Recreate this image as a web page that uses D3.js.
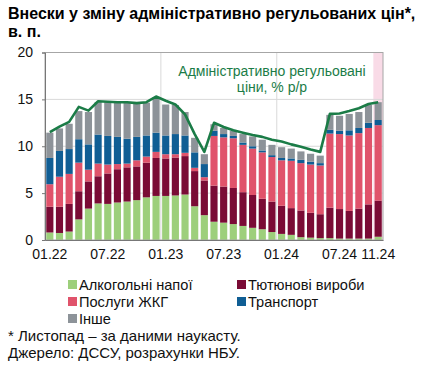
<!DOCTYPE html>
<html><head><meta charset="utf-8">
<script src="https://cdn.jsdelivr.net/npm/d3@7/dist/d3.min.js"></script>
<style>
body{margin:0;background:#fff;}
svg{display:block;font-family:"Liberation Sans",Arial,sans-serif;}
</style></head>
<body><svg id="c" width="421" height="365"></svg>
<script>
const months = ["01.22","02.22","03.22","04.22","05.22","06.22","07.22","08.22","09.22","10.22","11.22","12.22",
"01.23","02.23","03.23","04.23","05.23","06.23","07.23","08.23","09.23","10.23","11.23","12.23",
"01.24","02.24","03.24","04.24","05.24","06.24","07.24","08.24","09.24","10.24","11.24"];
const tickLabels = ["01.22","07.22","01.23","07.23","01.24","07.24","11.24"];
const yTicks = [0,5,10,15,20];

const alcohol = [0.8,0.75,0.9,2.2,3.35,3.9,3.85,4.0,4.1,4.25,4.55,4.7,4.7,4.75,4.85,3.6,2.65,1.95,1.85,1.7,1.5,1.3,1.15,0.85,0.65,0.55,0.3,0.25,0.2,0.2,0.15,0.15,0.15,0.15,0.35];
const tobacco = [2.75,2.8,2.95,3.0,2.9,2.9,3.25,3.55,3.65,3.6,3.7,4.05,4.0,4.05,4.1,3.75,3.7,3.85,3.85,3.85,3.6,3.5,3.25,3.25,3.0,2.85,2.85,2.65,2.55,3.25,3.15,2.95,3.2,3.65,3.85];
const housing = [2.4,3.2,3.2,3.05,1.25,1.35,0.95,0.55,0.4,0.65,0.65,0.65,0.45,0.35,0.35,0.35,0.35,5.3,5.25,5.3,5.05,4.95,4.95,4.75,4.85,5.05,5.05,5.15,5.2,7.9,8.0,8.05,8.05,8.15,8.05];
const transport = [2.8,2.75,2.65,2.5,2.7,3.1,3.05,2.9,2.65,2.5,2.25,2.05,2.0,2.15,1.85,1.65,1.4,0.55,0.35,0.25,0.25,0.25,0.2,0.2,0.25,0.25,0.35,0.3,0.25,0.4,0.35,0.55,0.55,0.55,0.55];
const other = [2.7,2.4,2.7,3.0,3.45,3.45,3.6,3.7,3.85,3.6,3.5,3.8,3.3,3.1,2.5,1.55,1.05,0.7,0.65,0.55,0.9,1.05,1.15,1.1,1.15,1.05,0.9,0.85,0.8,1.6,1.6,1.75,1.7,1.9,1.9];
const adminPrices = [11.5,12.1,12.6,14.2,13.8,14.8,14.75,14.7,14.7,14.6,14.7,15.3,14.85,14.45,13.4,11.3,9.4,12.5,12.05,11.7,11.45,11.2,11.0,10.7,10.5,10.2,9.95,9.65,9.4,13.45,13.5,13.75,14.05,14.5,14.7];

const seriesNames = ["Алкогольні напої","Тютюнові вироби","Послуги ЖКГ","Транспорт","Інше"];
const seriesData = [alcohol,tobacco,housing,transport,other];
const colors = ["#9dcf7b","#7a0b35","#e0536b","#105e94","#8d9399"];
const lineColor = "#1b7c47";

const svg = d3.select("#c");
const L=45, R=383, T=52.5, B=240;

const x = d3.scaleBand().domain(months).range([L,R]).paddingInner(0.26).paddingOuter(0.13);
const y = d3.scaleLinear().domain([0,20]).range([B,T]);

// title
svg.append("text").attr("x",8).attr("y",18.5).attr("font-size",16).attr("font-weight","bold").attr("fill","#000")
  .text("Внески у зміну адміністративно регульованих цін*,");
svg.append("text").attr("x",8).attr("y",36.5).attr("font-size",16).attr("font-weight","bold").attr("fill","#000")
  .text("в. п.");

// shaded last month
svg.append("rect").attr("x",x("11.24")-x.step()*0.13).attr("y",T).attr("width",x.step()).attr("height",B-T).attr("fill","#f9dbe7");

// gridlines
svg.append("g").selectAll("line").data(yTicks.filter(d=>d>0&&d<20)).join("line")
  .attr("x1",L).attr("x2",R).attr("y1",d=>y(d)).attr("y2",d=>y(d)).attr("stroke","#d9d9d9").attr("stroke-width",1);
svg.append("g").selectAll("line").data(["01.23","01.24"]).join("line")
  .attr("x1",d=>x(d)-x.step()*0.13).attr("x2",d=>x(d)-x.step()*0.13).attr("y1",T).attr("y2",B).attr("stroke","#d9d9d9").attr("stroke-width",1);

// stacked bars
const table = months.map((m,i)=>{const o={month:m}; seriesNames.forEach((s,k)=>o[s]=seriesData[k][i]); return o;});
const stack = d3.stack().keys(seriesNames)(table);
svg.append("g").selectAll("g").data(stack).join("g").attr("fill",(d,i)=>colors[i])
  .selectAll("rect").data(d=>d).join("rect")
  .attr("x",d=>x(d.data.month)).attr("width",x.bandwidth())
  .attr("y",d=>y(d[1])).attr("height",d=>y(d[0])-y(d[1]));

// line
const line = d3.line().x((d,i)=>x(months[i])+x.bandwidth()/2).y(d=>y(d));
svg.append("path").datum(adminPrices).attr("d",line).attr("fill","none").attr("stroke",lineColor).attr("stroke-width",2.6).attr("stroke-linejoin","round");

// frame
svg.append("rect").attr("x",L).attr("y",T).attr("width",R-L).attr("height",B-T).attr("fill","none").attr("stroke","#a6a6a6").attr("stroke-width",1);

// axes
const yAxis = d3.axisLeft(y).tickValues(yTicks).tickSize(3).tickPadding(9);
const gy = svg.append("g").attr("transform",`translate(${L},0)`).call(yAxis);
gy.select(".domain").attr("stroke","#777");
gy.selectAll(".tick line").attr("stroke","#777");
gy.selectAll("text").attr("font-size",14).attr("font-family","Liberation Sans, Arial, sans-serif").attr("fill","#111");

const xAxis = d3.axisBottom(x).tickValues(tickLabels).tickSize(0).tickPadding(9);
const gx = svg.append("g").attr("transform",`translate(0,${B})`).call(xAxis);
gx.select(".domain").attr("stroke","#777");
gx.selectAll("text").attr("font-size",14).attr("font-family","Liberation Sans, Arial, sans-serif").attr("fill","#111");

// annotation
const ann = svg.append("text").attr("fill",lineColor).attr("font-size",14).attr("text-anchor","middle");
ann.append("tspan").attr("x",272).attr("y",76).text("Адміністративно регульовані");
ann.append("tspan").attr("x",272).attr("y",92).text("ціни, % р/р");

// legend
const legPos = [[68,285],[237,285],[68,302],[237,302],[68,319]];
const leg = svg.append("g").selectAll("g").data(seriesNames).join("g")
  .attr("transform",(d,i)=>`translate(${legPos[i][0]},${legPos[i][1]})`);
leg.append("rect").attr("x",0).attr("y",-5).attr("width",9).attr("height",9).attr("fill",(d,i)=>colors[i]);
leg.append("text").attr("x",11).attr("y",5).attr("font-size",14.6).attr("fill","#111").text(d=>d);

// footnotes
svg.append("text").attr("x",8).attr("y",341).attr("font-size",15).attr("fill","#111").text("* Листопад – за даними наукасту.");
svg.append("text").attr("x",8).attr("y",358).attr("font-size",15).attr("fill","#111").text("Джерело: ДССУ, розрахунки НБУ.");
</script>
</body></html>
